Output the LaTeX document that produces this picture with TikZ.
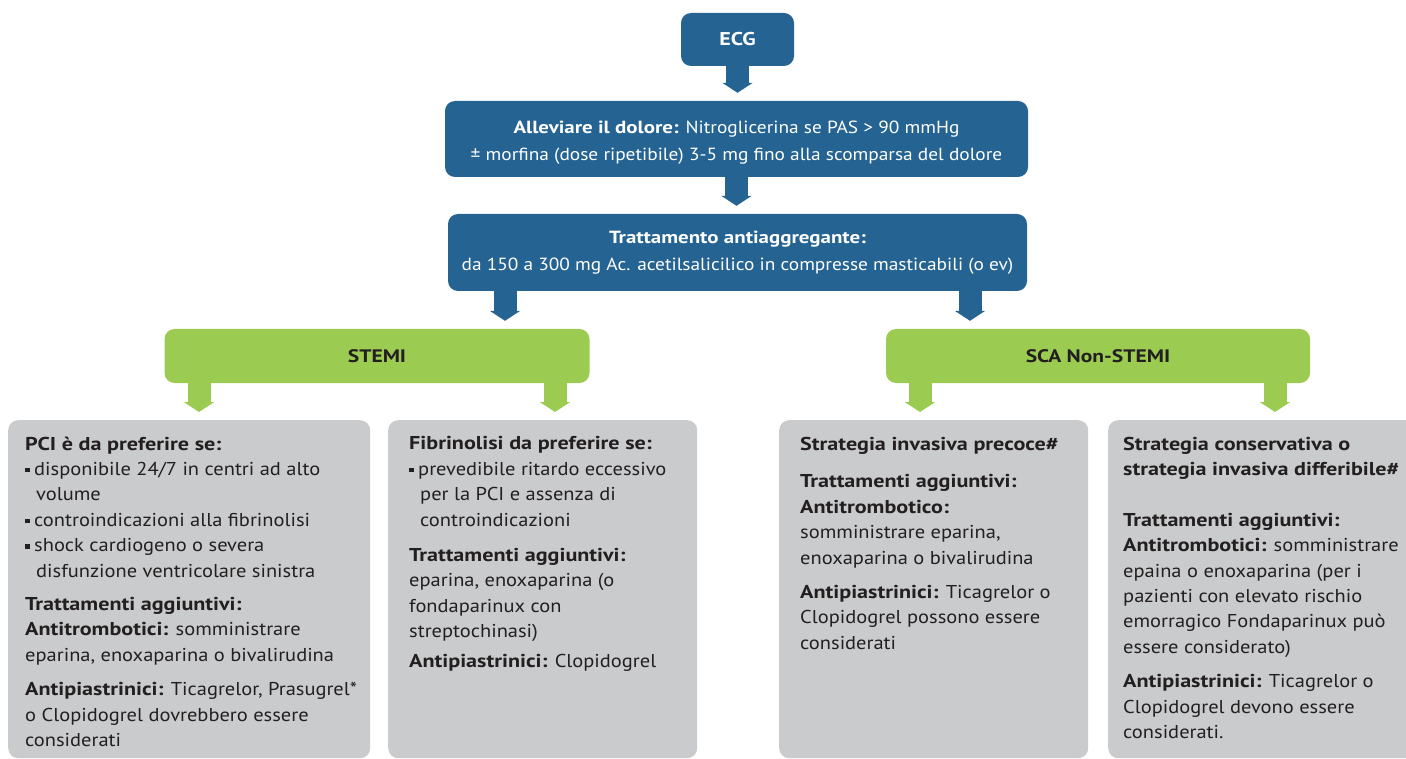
\documentclass[tikz,border=0pt]{standalone}
\usepackage{fontspec}
\setmainfont{PT Sans}[FakeStretch=1.1,BoldFeatures={FakeStretch=1.19}]
\usepackage{tikz}
\usetikzlibrary{positioning,arrows.meta}
\definecolor{ecgblue}{RGB}{36,99,146}
\definecolor{ecggreen}{RGB}{156,203,82}
\definecolor{boxgrey}{RGB}{201,203,204}
\definecolor{txtdark}{RGB}{35,31,32}
\newcommand{\bul}{\makebox[9pt][l]{\rule[3pt]{4.5pt}{4.5pt}}}
\newcommand{\ind}{\hspace*{11pt}}
\tikzset{
  bluebox/.style={rectangle,rounded corners=10pt,fill=ecgblue,text=white,
                  align=center,inner sep=0pt,
                  font=\fontsize{17.6}{27}\selectfont},
  greenbox/.style={rectangle,rounded corners=10pt,fill=ecggreen,text=txtdark,
                   align=center,inner sep=0pt,minimum height=54pt,
                   font=\fontsize{18.1}{22}\selectfont},
  greybox/.style={rectangle,rounded corners=10pt,fill=boxgrey,anchor=north west,
                  inner sep=0pt,minimum height=338pt},
  boxtext/.style={anchor=north west,align=left,inner sep=0pt,text=txtdark,
                  font=\fontsize{18.6}{25.4}\selectfont},
  bluearrow/.style={draw=ecgblue,line width=23pt,
                    -{Triangle[length=10pt,width=30pt]},shorten >=8pt},
  greenarrow/.style={bluearrow,draw=ecggreen},
}

\begin{document}
\begin{tikzpicture}[x=1pt,y=-1pt]
\useasboundingbox (0,0) rectangle (1406,759);
% top of the chart
\node[bluebox,minimum width=113pt,minimum height=53pt,font=\fontsize{18.5}{22}\selectfont]
  (ecg) at (737.5,39.5) {\textbf{ECG}};
\node[bluebox,minimum width=583pt,minimum height=76pt] (dolore) at (736.5,139)
  {\rule{0pt}{20pt}\textbf{Alleviare il dolore:} Nitroglicerina se PAS > 90 mmHg\\
   ± morfina (dose ripetibile) 3-5 mg fino alla scomparsa del dolore};
\node[bluebox,minimum width=579pt,minimum height=77pt] (antiagg) at (737.5,252.5)
  {\textbf{Trattamento antiaggregante:}\\
   da 150 a 300 mg Ac. acetilsalicilico in compresse masticabili (o ev)};
\node[greenbox,minimum width=425pt] (stemi) at (377,356) {\textbf{STEMI}};
\node[greenbox,minimum width=424pt] (nstemi) at (1098,356) {\textbf{SCA Non-STEMI}};

% grey boxes
\node[greybox,minimum width=362pt] (pci) at (8,420) {};
\node[greybox,minimum width=309pt] (fibr) at (388,420) {};
\node[greybox,minimum width=309pt] (precoce) at (779,420) {};
\node[greybox,minimum width=312pt] (conserv) at (1108,420) {};

\node[boxtext] (pcitxt) at (25,436.5)
  {\textbf{PCI è da preferire se:}\\
   \bul disponibile 24/7 in centri ad alto\\
   \ind volume\\
   \bul controindicazioni alla fibrinolisi\\
   \bul shock cardiogeno o severa\\
   \ind disfunzione ventricolare sinistra\\[8pt]
   \textbf{Trattamenti aggiuntivi:}\\
   \textbf{Antitrombotici:} somministrare\\
   eparina, enoxaparina o bivalirudina\\[9pt]
   \textbf{Antipiastrinici:} Ticagrelor, Prasugrel*\\
   o Clopidogrel dovrebbero essere\\
   considerati};
\node[boxtext] (fibrtxt) at (409,436.5)
  {\textbf{Fibrinolisi da preferire se:}\\
   \bul prevedibile ritardo eccessivo\\
   \ind per la PCI e assenza di\\
   \ind controindicazioni\\[10pt]
   \textbf{Trattamenti aggiuntivi:}\\
   eparina, enoxaparina (o\\
   fondaparinux con\\
   streptochinasi)\\[4pt]
   \textbf{Antipiastrinici:} Clopidogrel};
\node[boxtext] (precocetxt) at (800,437)
  {\textbf{Strategia invasiva precoce\#}\\[12pt]
   \textbf{Trattamenti aggiuntivi:}\\
   \textbf{Antitrombotico:}\\
   somministrare eparina,\\
   enoxaparina o bivalirudina\\[9pt]
   \textbf{Antipiastrinici:} Ticagrelor o\\
   Clopidogrel possono essere\\
   considerati};
\node[boxtext] (conservtxt) at (1123,437)
  {\textbf{Strategia conservativa o}\\
   \textbf{strategia invasiva differibile\#}\\[25pt]
   \textbf{Trattamenti aggiuntivi:}\\
   \textbf{Antitrombotici:} somministrare\\
   epaina o enoxaparina (per i\\
   pazienti con elevato rischio\\
   emorragico Fondaparinux può\\
   essere considerato)\\[9pt]
   \textbf{Antipiastrinici:} Ticagrelor o\\
   Clopidogrel devono essere\\
   considerati.};

% arrows
\coordinate (al) at (505,0);
\coordinate (ar) at (970,0);
\coordinate (g1) at (199,0);
\coordinate (g2) at (555,0);
\coordinate (g3) at (920,0);
\coordinate (g4) at (1275,0);
\draw[bluearrow] (ecg.south) -- (ecg.south |- dolore.north);
\draw[bluearrow] (dolore.south) -- (dolore.south |- antiagg.north);
\draw[bluearrow] (antiagg.south -| al) -- (stemi.north -| al);
\draw[bluearrow] (antiagg.south -| ar) -- (nstemi.north -| ar);
\draw[greenarrow] (stemi.south -| g1) -- (pci.north -| g1);
\draw[greenarrow] (stemi.south -| g2) -- (fibr.north -| g2);
\draw[greenarrow] (nstemi.south -| g3) -- (precoce.north -| g3);
\draw[greenarrow] (nstemi.south -| g4) -- (conserv.north -| g4);
\end{tikzpicture}
\end{document}
